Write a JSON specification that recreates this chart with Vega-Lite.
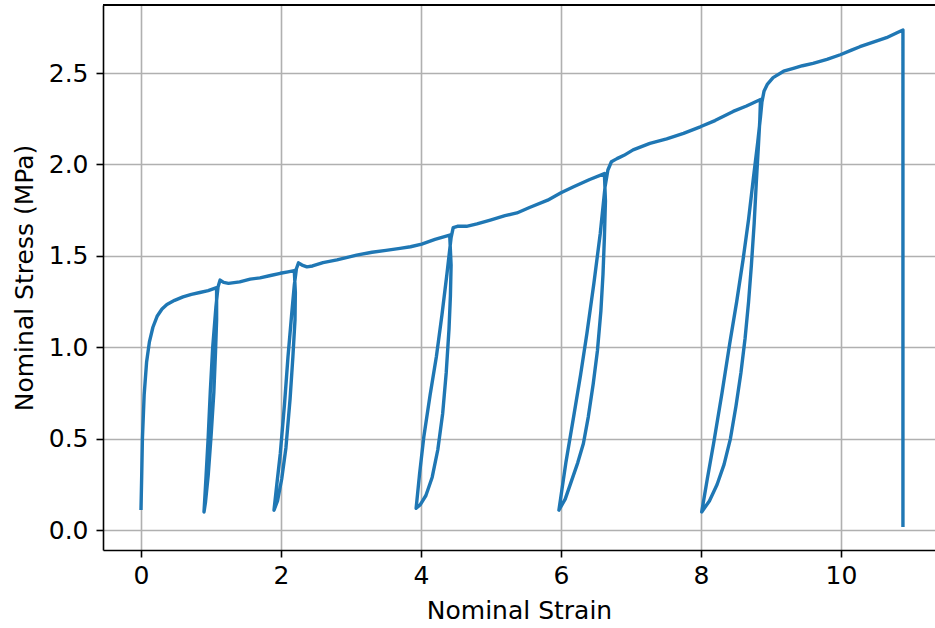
{
  "$schema": "https://vega.github.io/schema/vega-lite/v6.json",
  "width": 832,
  "height": 545,
  "autosize": {"type": "none"},
  "padding": {"left": 103, "top": 5, "right": 0, "bottom": 78},
  "background": "white",
  "config": {
    "view": {"stroke": null},
    "font": "DejaVu Sans",
    "axis": {
      "labelFont": "DejaVu Sans",
      "titleFont": "DejaVu Sans",
      "labelFontSize": 25,
      "titleFontSize": 25,
      "labelColor": "black",
      "titleColor": "black",
      "titleFontWeight": "normal",
      "domainColor": "black",
      "domainWidth": 1.6,
      "tickColor": "black",
      "tickWidth": 1.6,
      "tickSize": 7,
      "labelPadding": 6,
      "gridColor": "#b0b0b0",
      "gridWidth": 1.6,
      "gridOpacity": 1
    }
  },
  "data": {
    "values": [
      {"i": 0, "strain": 0.00, "stress": 0.12},
      {"i": 1, "strain": 0.01, "stress": 0.30},
      {"i": 2, "strain": 0.02, "stress": 0.50},
      {"i": 3, "strain": 0.045, "stress": 0.74},
      {"i": 4, "strain": 0.08, "stress": 0.92},
      {"i": 5, "strain": 0.12, "stress": 1.03},
      {"i": 6, "strain": 0.17, "stress": 1.11},
      {"i": 7, "strain": 0.23, "stress": 1.17},
      {"i": 8, "strain": 0.30, "stress": 1.21},
      {"i": 9, "strain": 0.37, "stress": 1.235},
      {"i": 10, "strain": 0.48, "stress": 1.257},
      {"i": 11, "strain": 0.60, "stress": 1.276},
      {"i": 12, "strain": 0.72, "stress": 1.29},
      {"i": 13, "strain": 0.84, "stress": 1.30},
      {"i": 14, "strain": 0.96, "stress": 1.31},
      {"i": 15, "strain": 1.08, "stress": 1.327},
      {"i": 16, "strain": 1.08, "stress": 1.15},
      {"i": 17, "strain": 1.065, "stress": 0.98},
      {"i": 18, "strain": 1.04, "stress": 0.75},
      {"i": 19, "strain": 1.00, "stress": 0.51},
      {"i": 20, "strain": 0.96, "stress": 0.30},
      {"i": 21, "strain": 0.92, "stress": 0.15},
      {"i": 22, "strain": 0.90, "stress": 0.10},
      {"i": 23, "strain": 0.93, "stress": 0.30},
      {"i": 24, "strain": 0.96, "stress": 0.51},
      {"i": 25, "strain": 0.99, "stress": 0.76},
      {"i": 26, "strain": 1.024, "stress": 1.00},
      {"i": 27, "strain": 1.07, "stress": 1.22},
      {"i": 28, "strain": 1.10, "stress": 1.33},
      {"i": 29, "strain": 1.13, "stress": 1.368},
      {"i": 30, "strain": 1.18, "stress": 1.355},
      {"i": 31, "strain": 1.25, "stress": 1.35},
      {"i": 32, "strain": 1.41, "stress": 1.358},
      {"i": 33, "strain": 1.56, "stress": 1.373},
      {"i": 34, "strain": 1.70, "stress": 1.38},
      {"i": 35, "strain": 1.85, "stress": 1.393},
      {"i": 36, "strain": 1.99, "stress": 1.405},
      {"i": 37, "strain": 2.10, "stress": 1.413},
      {"i": 38, "strain": 2.19, "stress": 1.42},
      {"i": 39, "strain": 2.205, "stress": 1.30},
      {"i": 40, "strain": 2.20, "stress": 1.15},
      {"i": 41, "strain": 2.17, "stress": 0.95},
      {"i": 42, "strain": 2.13, "stress": 0.72},
      {"i": 43, "strain": 2.07, "stress": 0.45},
      {"i": 44, "strain": 2.01, "stress": 0.28},
      {"i": 45, "strain": 1.95, "stress": 0.16},
      {"i": 46, "strain": 1.90, "stress": 0.11},
      {"i": 47, "strain": 1.94, "stress": 0.25},
      {"i": 48, "strain": 1.99, "stress": 0.42},
      {"i": 49, "strain": 2.05, "stress": 0.69},
      {"i": 50, "strain": 2.10, "stress": 0.95},
      {"i": 51, "strain": 2.15, "stress": 1.17},
      {"i": 52, "strain": 2.19, "stress": 1.34},
      {"i": 53, "strain": 2.22, "stress": 1.43},
      {"i": 54, "strain": 2.25, "stress": 1.462},
      {"i": 55, "strain": 2.30, "stress": 1.45},
      {"i": 56, "strain": 2.37, "stress": 1.44},
      {"i": 57, "strain": 2.45, "stress": 1.445},
      {"i": 58, "strain": 2.60, "stress": 1.463},
      {"i": 59, "strain": 2.80, "stress": 1.478},
      {"i": 60, "strain": 3.08, "stress": 1.504},
      {"i": 61, "strain": 3.30, "stress": 1.52},
      {"i": 62, "strain": 3.50, "stress": 1.53},
      {"i": 63, "strain": 3.70, "stress": 1.541},
      {"i": 64, "strain": 3.85, "stress": 1.55},
      {"i": 65, "strain": 4.01, "stress": 1.565},
      {"i": 66, "strain": 4.20, "stress": 1.59},
      {"i": 67, "strain": 4.41, "stress": 1.614},
      {"i": 68, "strain": 4.43, "stress": 1.45},
      {"i": 69, "strain": 4.42, "stress": 1.28},
      {"i": 70, "strain": 4.40, "stress": 1.10},
      {"i": 71, "strain": 4.36, "stress": 0.86},
      {"i": 72, "strain": 4.31, "stress": 0.64},
      {"i": 73, "strain": 4.24, "stress": 0.44},
      {"i": 74, "strain": 4.16, "stress": 0.29},
      {"i": 75, "strain": 4.07, "stress": 0.19},
      {"i": 76, "strain": 3.99, "stress": 0.14},
      {"i": 77, "strain": 3.93, "stress": 0.12},
      {"i": 78, "strain": 3.98, "stress": 0.31},
      {"i": 79, "strain": 4.04, "stress": 0.51},
      {"i": 80, "strain": 4.13, "stress": 0.74},
      {"i": 81, "strain": 4.22, "stress": 0.95},
      {"i": 82, "strain": 4.30, "stress": 1.18},
      {"i": 83, "strain": 4.37, "stress": 1.40},
      {"i": 84, "strain": 4.43, "stress": 1.60},
      {"i": 85, "strain": 4.46, "stress": 1.655},
      {"i": 86, "strain": 4.52, "stress": 1.662},
      {"i": 87, "strain": 4.65, "stress": 1.662},
      {"i": 88, "strain": 4.80, "stress": 1.675},
      {"i": 89, "strain": 4.99, "stress": 1.696},
      {"i": 90, "strain": 5.20, "stress": 1.72},
      {"i": 91, "strain": 5.37, "stress": 1.735},
      {"i": 92, "strain": 5.55, "stress": 1.765},
      {"i": 93, "strain": 5.81, "stress": 1.805},
      {"i": 94, "strain": 6.00, "stress": 1.845},
      {"i": 95, "strain": 6.18, "stress": 1.878},
      {"i": 96, "strain": 6.41, "stress": 1.918},
      {"i": 97, "strain": 6.62, "stress": 1.95},
      {"i": 98, "strain": 6.635, "stress": 1.80},
      {"i": 99, "strain": 6.62, "stress": 1.60},
      {"i": 100, "strain": 6.60, "stress": 1.40},
      {"i": 101, "strain": 6.57, "stress": 1.20},
      {"i": 102, "strain": 6.52, "stress": 0.98},
      {"i": 103, "strain": 6.46, "stress": 0.80},
      {"i": 104, "strain": 6.39, "stress": 0.62},
      {"i": 105, "strain": 6.32, "stress": 0.474},
      {"i": 106, "strain": 6.24, "stress": 0.37},
      {"i": 107, "strain": 6.15, "stress": 0.27},
      {"i": 108, "strain": 6.06, "stress": 0.17},
      {"i": 109, "strain": 5.97, "stress": 0.11},
      {"i": 110, "strain": 6.07, "stress": 0.37},
      {"i": 111, "strain": 6.18, "stress": 0.62},
      {"i": 112, "strain": 6.28, "stress": 0.85},
      {"i": 113, "strain": 6.37, "stress": 1.076},
      {"i": 114, "strain": 6.47, "stress": 1.35},
      {"i": 115, "strain": 6.56, "stress": 1.62},
      {"i": 116, "strain": 6.63, "stress": 1.88},
      {"i": 117, "strain": 6.67, "stress": 1.97},
      {"i": 118, "strain": 6.72, "stress": 2.015},
      {"i": 119, "strain": 6.80, "stress": 2.032},
      {"i": 120, "strain": 6.90, "stress": 2.05},
      {"i": 121, "strain": 7.03, "stress": 2.08},
      {"i": 122, "strain": 7.27, "stress": 2.115},
      {"i": 123, "strain": 7.51, "stress": 2.14},
      {"i": 124, "strain": 7.75, "stress": 2.17},
      {"i": 125, "strain": 7.99, "stress": 2.206},
      {"i": 126, "strain": 8.20, "stress": 2.24},
      {"i": 127, "strain": 8.46, "stress": 2.29},
      {"i": 128, "strain": 8.65, "stress": 2.32},
      {"i": 129, "strain": 8.85, "stress": 2.355},
      {"i": 130, "strain": 8.84, "stress": 2.24},
      {"i": 131, "strain": 8.82, "stress": 2.10},
      {"i": 132, "strain": 8.79, "stress": 1.90},
      {"i": 133, "strain": 8.76, "stress": 1.68},
      {"i": 134, "strain": 8.72, "stress": 1.45},
      {"i": 135, "strain": 8.68, "stress": 1.25},
      {"i": 136, "strain": 8.63, "stress": 1.05},
      {"i": 137, "strain": 8.57, "stress": 0.86},
      {"i": 138, "strain": 8.50, "stress": 0.68},
      {"i": 139, "strain": 8.42, "stress": 0.50},
      {"i": 140, "strain": 8.33, "stress": 0.36},
      {"i": 141, "strain": 8.23, "stress": 0.25},
      {"i": 142, "strain": 8.12, "stress": 0.16},
      {"i": 143, "strain": 8.01, "stress": 0.10},
      {"i": 144, "strain": 8.09, "stress": 0.28},
      {"i": 145, "strain": 8.18, "stress": 0.474},
      {"i": 146, "strain": 8.30, "stress": 0.75},
      {"i": 147, "strain": 8.41, "stress": 1.02},
      {"i": 148, "strain": 8.51, "stress": 1.25},
      {"i": 149, "strain": 8.60, "stress": 1.477},
      {"i": 150, "strain": 8.68, "stress": 1.70},
      {"i": 151, "strain": 8.75, "stress": 1.93},
      {"i": 152, "strain": 8.81, "stress": 2.12},
      {"i": 153, "strain": 8.85, "stress": 2.26},
      {"i": 154, "strain": 8.87, "stress": 2.34},
      {"i": 155, "strain": 8.90, "stress": 2.40},
      {"i": 156, "strain": 8.95, "stress": 2.44},
      {"i": 157, "strain": 9.03, "stress": 2.475},
      {"i": 158, "strain": 9.18, "stress": 2.51},
      {"i": 159, "strain": 9.32, "stress": 2.526},
      {"i": 160, "strain": 9.45, "stress": 2.54},
      {"i": 161, "strain": 9.60, "stress": 2.553},
      {"i": 162, "strain": 9.80, "stress": 2.575},
      {"i": 163, "strain": 9.99, "stress": 2.60},
      {"i": 164, "strain": 10.15, "stress": 2.625},
      {"i": 165, "strain": 10.27, "stress": 2.644},
      {"i": 166, "strain": 10.45, "stress": 2.668},
      {"i": 167, "strain": 10.65, "stress": 2.693},
      {"i": 168, "strain": 10.80, "stress": 2.72},
      {"i": 169, "strain": 10.885, "stress": 2.735},
      {"i": 170, "strain": 10.885, "stress": 0.027}
    ]
  },
  "layer": [
    {
      "mark": {"type": "line", "color": "#1f77b4", "strokeWidth": 3.4, "strokeJoin": "round", "strokeCap": "square", "clip": true},
      "encoding": {
        "order": {"field": "i", "type": "quantitative"},
        "x": {
          "field": "strain",
          "type": "quantitative",
          "title": "Nominal Strain",
          "scale": {"domain": [-0.543, 11.343], "nice": false, "zero": false},
          "axis": {"values": [0, 2, 4, 6, 8, 10], "format": "d", "titlePadding": 10}
        },
        "y": {
          "field": "stress",
          "type": "quantitative",
          "title": "Nominal Stress (MPa)",
          "scale": {"domain": [-0.108, 2.872], "nice": false, "zero": false},
          "axis": {"values": [0, 0.5, 1, 1.5, 2, 2.5], "format": ".1f", "labelPadding": 8, "titlePadding": 11}
        }
      }
    },
    {
      "mark": {"type": "rule", "color": "black", "strokeWidth": 1.6},
      "encoding": {"y": {"datum": 2.872}}
    }
  ]
}
